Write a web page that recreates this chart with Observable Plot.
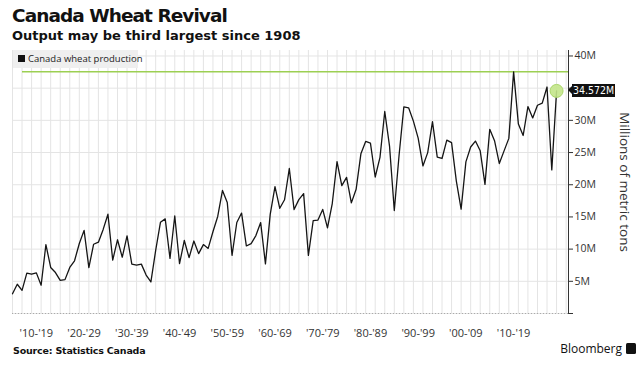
<!DOCTYPE html>
<html>
<head>
<meta charset="utf-8">
<script src="https://cdn.jsdelivr.net/npm/d3@7"></script>
<script src="https://cdn.jsdelivr.net/npm/@observablehq/plot@0.6"></script>
<style>
  html, body { margin: 0; padding: 0; background: #fff; }
  #wrap { position: relative; width: 642px; height: 374px; overflow: hidden; font-family: "DejaVu Sans", sans-serif; }
  #title { position: absolute; left: 12px; top: 5px; font: bold 18.5px "DejaVu Sans"; letter-spacing: -0.95px; color: #111; white-space: nowrap; }
  #subtitle { position: absolute; left: 12px; top: 28px; font: bold 13px "DejaVu Sans"; letter-spacing: 0px; color: #111; white-space: nowrap; }
  #chart { position: absolute; left: 0; top: 46px; }
  #legend { position: absolute; left: 13px; top: 50px; width: 125px; height: 18px; background: #efefef; font: 9.5px "Open Sans", sans-serif; color: #222; line-height: 18px; white-space: nowrap; }
  #legend .sw { display: inline-block; width: 7px; height: 7px; background: #111; margin: 0 3px 0 5px; vertical-align: 0px; }
  #vlabel { position: absolute; height: 13px; background: #111; color: #fff; font: 10.5px "DejaVu Sans Condensed", "DejaVu Sans", sans-serif; font-stretch: condensed; line-height: 13px; padding: 0 1px; white-space: nowrap; }
  #vlabel:before { content: ""; position: absolute; left: -4px; top: 2.5px; border-top: 4px solid transparent; border-bottom: 4px solid transparent; border-right: 4px solid #111; }
  #source { position: absolute; left: 13px; top: 345px; font: bold 9.5px "DejaVu Sans"; letter-spacing: -0.2px; color: #111; white-space: nowrap; }
  #brand { position: absolute; right: 6px; top: 340px; font: 500 12px "Open Sans", sans-serif; color: #111; white-space: nowrap; }
  #brand .ic { display: inline-block; width: 10px; height: 11px; background: #111; margin-left: 4px; vertical-align: -1px; border-radius: 1.5px; }
</style>
</head>
<body>
<div id="wrap">
  <div id="title">Canada Wheat Revival</div>
  <div id="subtitle">Output may be third largest since 1908</div>
  <div id="chart"></div>
  <div id="legend"><span class="sw"></span>Canada wheat production</div>
  <div id="source">Source: Statistics Canada</div>
  <div id="brand">Bloomberg<span class="ic"></span></div>
</div>
<script>
// ---- data (millions of metric tons), one value per year starting 1908
const firstYear = 1908;
const production = [
  3.06, 4.54,                                                     // 1908-1909
  3.60, 6.28, 6.10, 6.31, 4.39, 10.71, 7.15, 6.36, 5.15, 5.26,    // 1910s
  7.16, 8.19, 10.88, 12.91, 7.13, 10.76, 11.08, 13.06, 15.42, 8.29, // 1920s
  11.45, 8.74, 12.06, 7.67, 7.51, 7.67, 5.97, 4.90, 9.80, 14.17,  // 1930s
  14.70, 8.57, 15.15, 7.74, 11.34, 8.67, 11.26, 9.30, 10.70, 10.11, // 1940s
  12.70, 15.07, 19.11, 17.25, 9.04, 14.13, 15.60, 10.49, 10.85, 12.10, // 1950s
  14.12, 7.71, 15.39, 19.69, 16.34, 17.66, 22.52, 16.14, 17.69, 18.62, // 1960s
  9.02, 14.41, 14.51, 16.16, 13.30, 17.08, 23.59, 19.86, 21.15, 17.18, // 1970s
  19.29, 24.80, 26.72, 26.46, 21.20, 24.25, 31.38, 25.99, 15.99, 24.58, // 1980s
  32.10, 31.95, 29.88, 27.23, 22.92, 24.99, 29.80, 24.28, 24.08, 26.94, // 1990s
  26.54, 20.57, 16.20, 23.55, 25.86, 26.78, 25.27, 20.05, 28.61, 26.85, // 2000s
  23.30, 25.26, 27.20, 37.53, 29.42, 27.65, 32.14, 30.38, 32.35, 32.67, // 2010s
  35.18, 22.30, 34.572                                            // 2020-2022
];
const decadeStarts = [1910, 1920, 1930, 1940, 1950, 1960, 1970, 1980, 1990, 2000, 2010];
const decadeLabels = ["'10-'19", "'20-'29", "'30-'39", "'40-'49", "'50-'59", "'60-'69", "'70-'79", "'80-'89", "'90-'99", "'00-'09", "'10-'19"];
const yTicks = [0, 5, 10, 15, 20, 25, 30, 35, 40];
const yTickLabels = ["", "5M", "10M", "15M", "20M", "25M", "30M", "", "40M"]; // 35M sits under the value flag
const yGrid = [0, 5, 10, 15, 20, 25, 30, 35, 40];
const seriesName = "Canada wheat production";
const yTitle = "Millions of metric tons";

// ---- build tables
const data = production.map((v, i) => ({year: firstYear + i, value: v}));
const last = data[data.length - 1];
const maxValue = d3.max(production);
const gridYears = d3.range(firstYear, 2025, 2);
const decades = decadeStarts.map((s, i) => ({center: s + 3, label: decadeLabels[i]}));
const tickLabel = new Map(yTicks.map((t, i) => [t, yTickLabels[i]]));

const chart = Plot.plot({
  width: 642,
  height: 300,
  marginLeft: 12,
  marginRight: 74,
  marginTop: 4,
  marginBottom: 33,
  style: {fontFamily: "'Open Sans', sans-serif", fontSize: "10.5px", color: "#333", background: "transparent", overflow: "visible"},
  x: {domain: [1908, 2024.5], axis: null},
  y: {domain: [0, 40.85], axis: "right", ticks: yTicks, tickFormat: d => tickLabel.get(d), tickSize: 4, tickPadding: 2, line: true, label: null},
  marks: [
    Plot.ruleX(gridYears, {stroke: "#e4e4e4", strokeWidth: 1}),
    Plot.ruleY(yGrid, {stroke: "#e4e4e4", strokeWidth: 1}),
    Plot.ruleY([0], {stroke: "#aaa", strokeDasharray: "1,2"}),
    Plot.ruleY([maxValue], {stroke: "#9ccf52", strokeWidth: 1.5, insetLeft: 10}),
    Plot.line(data, {x: "year", y: "value", stroke: "#151515", strokeWidth: 1.3}),
    Plot.dot([last], {x: "year", y: "value", r: 6.5, fill: "#c3e58a", fillOpacity: 0.9, stroke: "#aad669", strokeWidth: 1}),
    Plot.text(decades, {x: "center", text: "label", frameAnchor: "bottom", dy: 23, fontSize: 11, fill: "#333"}),
    Plot.text([yTitle], {frameAnchor: "right", textAnchor: "middle", rotate: 90, dx: 56, fontSize: 13.5, fill: "#333"})
  ]
});
document.getElementById("chart").appendChild(chart);

// value label positioned through the plot's own scales
const ys = chart.scale("y");
const xs = chart.scale("x");
const yPix = (ys.apply ? ys.apply(last.value) : d3.scaleLinear(ys.domain, ys.range)(last.value)) + 46;
const xRight = (xs.apply ? xs.apply(2024.5) : d3.scaleLinear(xs.domain, xs.range)(2024.5));
const lab = document.createElement("div");
lab.id = "vlabel";
lab.textContent = d3.format(".3f")(last.value) + "M";
lab.style.left = (xRight + 4) + "px";
lab.style.top = (yPix - 6.5) + "px";
document.getElementById("wrap").appendChild(lab);
</script>
</body>
</html>
